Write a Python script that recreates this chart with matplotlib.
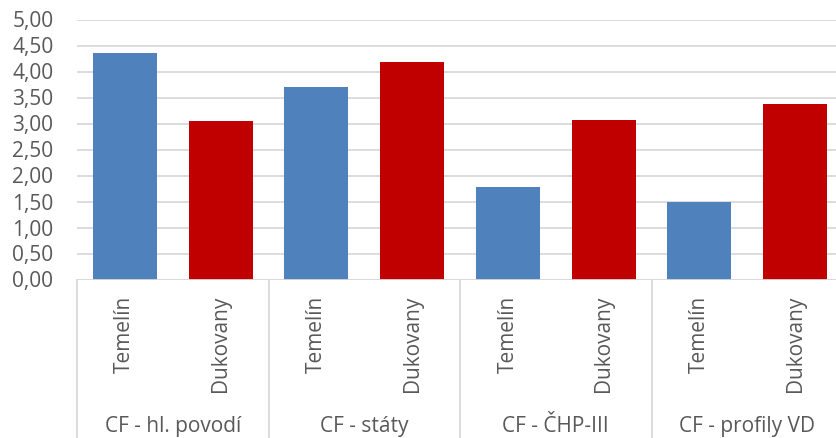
import matplotlib
matplotlib.use("Agg")
import matplotlib.pyplot as plt
import numpy as np

groups = ["CF - hl. povodí", "CF - státy", "CF - ČHP-III", "CF - profily VD"]
plants = ["Temelín", "Dukovany"]
temelin = [4.35, 3.71, 1.78, 1.50]
dukovany = [3.05, 4.18, 3.07, 3.37]

blue = "#4F81BD"
red = "#C00000"
grid_c = "#D9D9D9"
text_c = "#595959"

plt.rcParams["font.family"] = ["Open Sans", "DejaVu Sans"]

fig = plt.figure(figsize=(8.36, 4.38), dpi=100)
ax = fig.add_axes([77 / 836, 1 - 279.5 / 438, 766 / 836, 260 / 438])

x = np.arange(len(groups)) * 2
ax.bar(x + 0.5, temelin, width=0.67, color=blue, zorder=3)
ax.bar(x + 1.5, dukovany, width=0.67, color=red, zorder=3)

ax.set_xlim(0, 2 * len(groups))
ax.set_ylim(0, 5)
ax.set_yticks(np.arange(0, 5.01, 0.5))
ax.set_yticklabels([f"{v:.2f}".replace(".", ",") for v in np.arange(0, 5.01, 0.5)])
ax.tick_params(axis="y", length=0, pad=17, labelsize=15, labelcolor=text_c)
ax.set_xticks([])
ax.grid(axis="y", color=grid_c, lw=1.3, zorder=0)
for s in ax.spines.values():
    s.set_visible(False)
ax.axhline(0, color=grid_c, lw=1.3, zorder=4)

# multi-level category axis
for i, g in enumerate(groups):
    for j, p in enumerate(plants):
        ax.text(x[i] + j + 0.5, -0.063, p, rotation=90, ha="center", va="top",
                fontsize=15, color=text_c, transform=ax.get_xaxis_transform())
    ax.text(x[i] + 1, -0.567, g, ha="center", va="center", fontsize=15,
            color=text_c, transform=ax.get_xaxis_transform())
for xv in list(x) + [2 * len(groups)]:
    ax.plot([xv, xv], [0, -0.7], color=grid_c, lw=1.3, clip_on=False,
            transform=ax.get_xaxis_transform())

fig.savefig("out.png", dpi=100)
